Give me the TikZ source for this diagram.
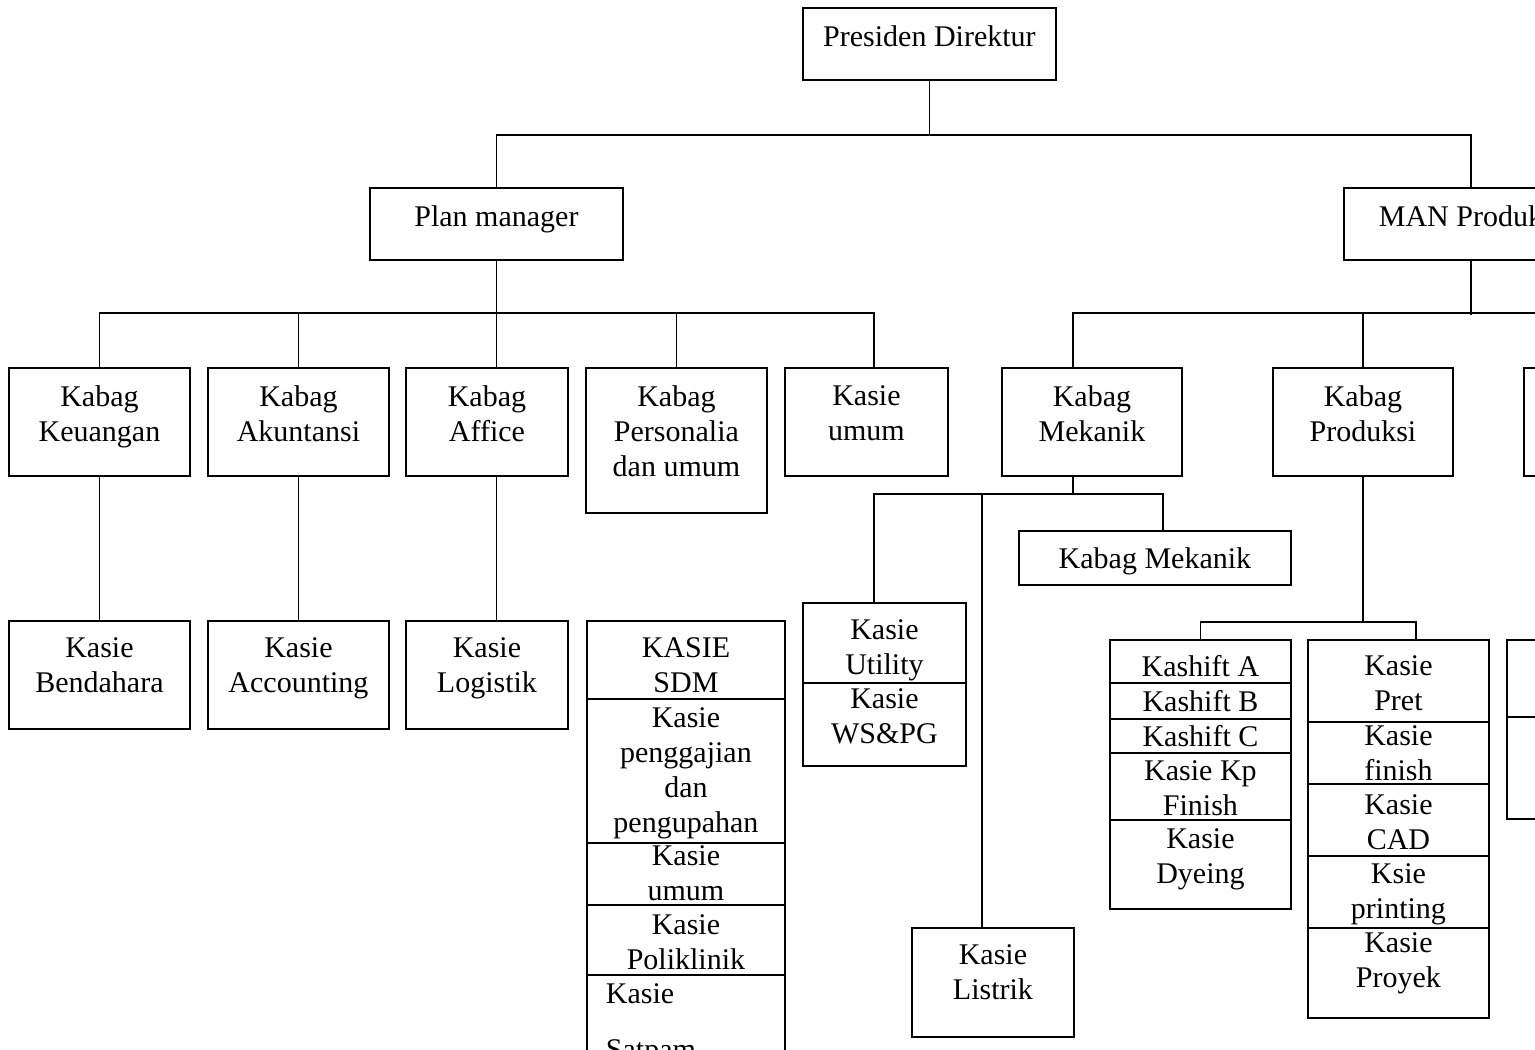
\documentclass[tikz,border=0pt]{standalone}
\usepackage{fontspec}
\setmainfont{Liberation Serif}
\begin{document}
\begin{tikzpicture}[x=0.4pt, y=-0.4pt, line width=0.75pt, line join=miter,
  box/.style={draw, anchor=north west, inner sep=0pt},
  txt/.style={anchor=north, inner sep=0pt, align=center, font=\fontsize{12}{14}\selectfont}]
\def\px{0.4pt}
\useasboundingbox (0,0) rectangle (1535,1050);
\clip (0,0) rectangle (1535,1050);
% boxes: name/x/y/width/height/text offset/text
\foreach \nm/\x/\y/\w/\h/\dy/\lbl in {
  pd/802/7/253/72/17.5/{Presiden Direktur},
  pm/369/187/253/72/17.5/{Plan manager},
  mp/1343/187/254/72/17.5/{MAN Produksi},
  kk/8/367/181/108/17.5/{Kabag\\Keuangan},
  ka/207/367/181/108/17.5/{Kabag\\Akuntansi},
  af/405/367/162/108/17.5/{Kabag\\Affice},
  kp/585/367/181/145/17.5/{Kabag\\Personalia\\dan umum},
  ku/784/367/163/108/17.5/{Kasie\\umum},
  km/1001/367/180/108/17.5/{Kabag\\Mekanik},
  kpr/1272/367/180/108/17.5/{Kabag\\Produksi},
  k3/1523/367/180/108/0/{},
  kb/8/620/181/108/16.5/{Kasie\\Bendahara},
  kac/207/620/181/108/16.5/{Kasie\\Accounting},
  kl/405/620/162/108/16.5/{Kasie\\Logistik},
  km2/1018/530/272/54/16.5/{Kabag Mekanik},
  ls/911/927/162/109/16.5/{Kasie\\Listrik}}{
  \node[box, minimum width=\w*\px, minimum height=\h*\px] (\nm) at (\x,\y) {};
  \node[txt] (\nm-t) at ([yshift=-\dy*\px]\nm.north) {\lbl};
}
% stacked boxes
\foreach \nm/\x/\y/\w/\h/\dy/\lbl in {
  sd1/586/620/198/78/16.5/{KASIE\\SDM},
  sd2/586/698/198/144/8.5/{Kasie\\penggajian\\dan\\pengupahan},
  sd3/586/842/198/62/2.5/{Kasie\\umum},
  sd4/586/904/198/70/9.5/{Kasie\\Poliklinik},
  sd5/586/974/198/120/0/{},
  ut1/802/602/163/80/16.5/{Kasie\\Utility},
  ut2/802/682/163/83/5.5/{Kasie\\WS\&PG},
  ks1/1109/639/181/43/15.5/{Kashift A},
  ks2/1109/682/181/36/7.5/{Kashift B},
  ks3/1109/718/181/34/6.5/{Kashift C},
  ks4/1109/752/181/67/7.5/{Kasie Kp\\Finish},
  ks5/1109/819/181/89/8.5/{Kasie\\Dyeing},
  pr1/1307/639/181/82/15.5/{Kasie\\Pret},
  pr2/1307/721/181/62/3.5/{Kasie\\finish},
  pr3/1307/783/181/72/10.5/{Kasie\\CAD},
  pr4/1307/855/181/72/7.5/{Ksie\\printing},
  pr5/1307/927/181/90/4.5/{Kasie\\Proyek},
  rt1/1506/639/181/77/0/{},
  rt2/1506/716/181/102/0/{}}{
  \node[box, minimum width=\w*\px, minimum height=\h*\px] (\nm) at (\x,\y) {};
  \node[txt] (\nm-t) at ([yshift=-\dy*\px]\nm.north) {\lbl};
}
\node[txt, anchor=north west, align=left] (sd5-t) at (605,982.5) {Kasie\\[8.5pt]Satpam};
% off-centre entry points
\path (874,367) coordinate (ku-in)
  (1073,367) coordinate (km-in) (1073,475) coordinate (km-out)
  (874,602) coordinate (ut-in) (982,927) coordinate (ls-in)
  (1163,530) coordinate (km2-in) (1416,639) coordinate (pr-in);
% connectors
\draw (pd.south) -- ++(0,54) -| (pm.north);
\draw (pd.south) ++(0,54) -| (mp.north);
\draw (pm.south) -- (pm.south |- af.north);
\draw (pm.south |- af.south) -- (pm.south |- kl.north);
\draw (kk.north) -- ++(0,-54) -| (ku-in);
\draw (ka.north) -- ++(0,-54) (kp.north) -- ++(0,-54);
\draw (kk.south) -- (kb.north) (ka.south) -- (kac.north);
\draw (mp.south) -- ++(0,54);
\draw (km-in) -- ++(0,-54) -| (k3.north);
\draw (kpr.north) -- ++(0,-54);
\draw (km-out) -- ++(0,19) -| (ut-in);
\draw (km-out) ++(0,19) -| (ls-in);
\draw (km-out) ++(0,19) -| (km2-in);
\draw (kpr.south) -- ++(0,145) -| (ks1.north);
\draw (kpr.south) ++(0,145) -| (pr-in);
\end{tikzpicture}
\end{document}
